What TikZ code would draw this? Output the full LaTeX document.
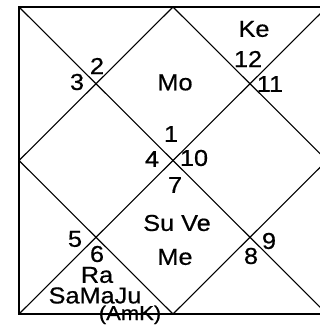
\documentclass[tikz,border=0pt]{standalone}
\usepackage{fontspec}
\setmainfont{Liberation Sans}[FakeStretch=1.1, FakeBold=0.6]
\tikzset{
  house/.style={draw=black, line width=1.1pt},
  lbl/.style={inner sep=0pt, font=\fontsize{23}{25}\selectfont}
}

\begin{document}
\begin{tikzpicture}[x=1pt, y=-1pt]
  \clip (0,0) rectangle (320,325);
  \coordinate (tl) at (19,7);
  \coordinate (tr) at (327,7);
  \coordinate (bl) at (19,314);
  \coordinate (br) at (327,314);
  \coordinate (mt) at (173,7);
  \coordinate (ml) at (19,160.5);
  \coordinate (mb) at (173,314);
  \coordinate (mr) at (327,160.5);
  \draw[house] (tl) -- (tr) -- (br) -- (bl) -- cycle;
  \draw[house] (tl) -- (br);
  \draw[house] (tr) -- (bl);
  \draw[house] (mt) -- (mr) -- (mb) -- (ml) -- cycle;
  \node[lbl] (h2) at (97,66) {2};
  \node[lbl] (h3) at (77,82) {3};
  \node[lbl] (mo) at (175,82.5) {Mo};
  \node[lbl] (ke) at (254,29) {Ke};
  \node[lbl] (h12) at (248,59) {12};
  \node[lbl] (h11) at (270,84) {11};
  \node[lbl] (h1) at (171,134) {1};
  \node[lbl] (h4) at (152,159) {4};
  \node[lbl] (h10) at (194,158) {10};
  \node[lbl] (h7) at (175,185) {7};
  \node[lbl] (suve) at (177,223) {Su Ve};
  \node[lbl] (me) at (175,257) {Me};
  \node[lbl] (h8) at (251,256) {8};
  \node[lbl] (h9) at (269,241) {9};
  \node[lbl] (h5) at (75,239) {5};
  \node[lbl] (h6) at (97,254) {6};
  \node[lbl] (ra) at (97,275) {Ra};
  \node[lbl] (samaju) at (95,295.5) {SaMaJu};
  \node[lbl, anchor=base, font=\fontsize{20}{22}\selectfont] (amk) at (130,320) {(AmK)};
\end{tikzpicture}
\end{document}
